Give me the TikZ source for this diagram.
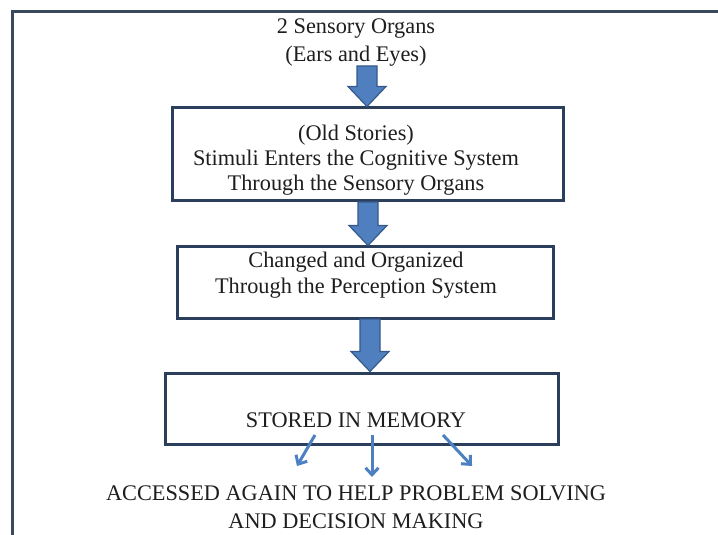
\documentclass[tikz,border=0pt]{standalone}
\usepackage{fontspec}
\setmainfont{Liberation Serif}
\usetikzlibrary{arrows.meta,calc}
\definecolor{frameC}{HTML}{3A4A5C}
\definecolor{boxC}{HTML}{2B3F5C}
\definecolor{arrFill}{HTML}{4F7FBF}
\definecolor{arrLine}{HTML}{36598A}
\definecolor{thinArr}{HTML}{4C80C0}
\definecolor{txt}{HTML}{1E1E1E}
\newcommand{\fatarrow}[2]{%
  \path[fatarr] let \p1=(#1), \p2=(#2) in
   (\x1-10bp,\y1) -- (\x1+10bp,\y1) -- (\x1+10bp,\y2+20bp) -- (\x1+19bp,\y2+20bp)
   -- (\x1,\y2) -- (\x1-19bp,\y2+20bp) -- (\x1-10bp,\y2+20bp) -- cycle;}
\begin{document}
\begin{tikzpicture}[x=1bp,y=-1bp,
  flowbox/.style={draw=boxC, line width=3bp, inner sep=0pt, fill=white},
  flowtext/.style={align=center, text=txt, inner sep=0pt,
     font=\fontsize{22.3bp}{#1}\selectfont},
  fatarr/.style={fill=arrFill, draw=arrLine, line width=1.2bp, line join=miter},
  thinarr/.style={draw=thinArr, line width=3bp,
     -{Straight Barb[length=7bp,width=13bp]}}]
\useasboundingbox (0,0) rectangle (718,535);
\clip (0,0) rectangle (718,535);
\fill[white] (0,0) rectangle (718,535);
% outer frame (only left and top edges are visible)
\draw[draw=frameC, line width=3bp] (12,560) -- (12,12) -- (740,12);

% boxes
\node[flowbox, minimum width=391bp, minimum height=93bp] (b1) at (367.5,154.5) {};
\node[flowbox, minimum width=376bp, minimum height=71bp] (b2) at (365,282.5) {};
\node[flowbox, minimum width=393bp, minimum height=71bp] (b3) at (361.5,408.5) {};

% texts
\node[flowtext=28bp] (t0) at (356,43) {2 Sensory Organs\\(Ears and Eyes)};
\node[flowtext=25bp] (t1) at (356,160) {(Old Stories)\\Stimuli Enters the Cognitive System\\Through the Sensory Organs};
\node[flowtext=26bp] (t2) at (356,275) {Changed and Organized\\Through the Perception System};
\node[flowtext=25bp] (t3) at (356,420) {STORED IN MEMORY};
\node[flowtext=28bp] (t4) at (356,507) {ACCESSED AGAIN TO HELP PROBLEM SOLVING\\AND DECISION MAKING};

% big arrows
\coordinate (a0s) at (367,66);
\coordinate (a1s) at (368,202);
\coordinate (a2s) at (370,319);
\fatarrow{a0s}{b1.north}
\fatarrow{a1s}{b2.north}
\fatarrow{a2s}{b3.north}

% small arrows
\coordinate (s1) at (315,435); \coordinate (e1) at (297,466);
\coordinate (s2) at (372,435); \coordinate (e2) at (372,477);
\coordinate (s3) at (443,435); \coordinate (e3) at (472,466);
\draw[thinarr] (s1) -- (e1);
\draw[thinarr] (s2) -- (e2);
\draw[thinarr] (s3) -- (e3);
\end{tikzpicture}
\end{document}
